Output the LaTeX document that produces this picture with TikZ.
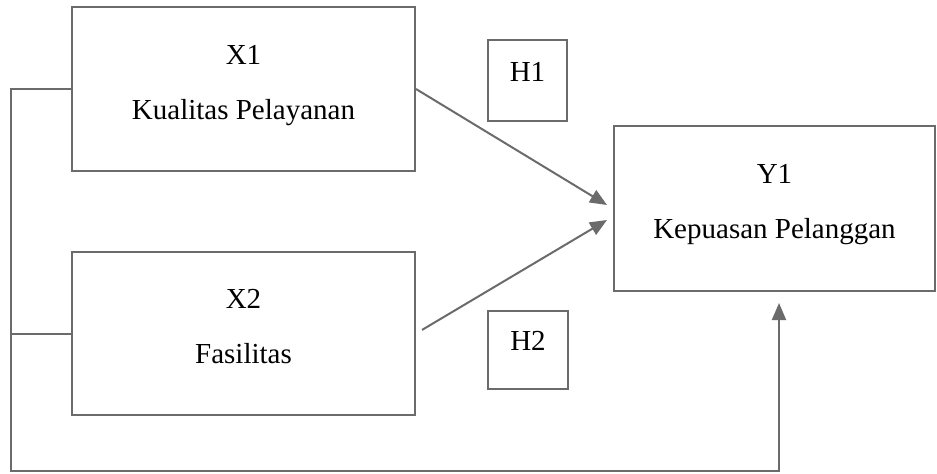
\documentclass[tikz,border=0pt]{standalone}
\usepackage{fontspec}
\setmainfont{Liberation Serif}
\usetikzlibrary{arrows.meta}

\definecolor{linegray}{HTML}{6B6B6B}
\tikzset{
  varbox/.style={draw=linegray,line width=1pt,align=center,inner sep=0pt,
    text depth=7pt,font=\fontsize{14.5}{27.5}\selectfont},
  hbox/.style={draw=linegray,line width=1pt,inner sep=0pt,
    font=\fontsize{14.5}{17}\selectfont},
  link/.style={draw=linegray,line width=1pt,-{Triangle[length=8.5pt,width=7pt]}}
}

\begin{document}
\begin{tikzpicture}[x=0.5pt,y=-0.5pt]
            \useasboundingbox (0,0) rectangle (937,473);
            % variables
            \node[varbox,minimum width=171.5pt,minimum height=82pt] (x1) at (243.5,89)
            {X1\\Kualitas Pelayanan};
            \node[varbox,minimum width=171.5pt,minimum height=81.5pt] (x2) at (243.5,333.5)
            {X2\\Fasilitas};
            \node[varbox,minimum width=160.5pt,minimum height=82.5pt] (y1) at (774.5,208.5)
            {Y1\\Kepuasan Pelanggan};
            % hypotheses
            \node[hbox,minimum width=39.5pt,minimum height=40.5pt] (h1) at (527.5,80.5) {};
            \node[hbox,minimum width=40pt,minimum height=39pt] (h2) at (528,349.5) {};
            \node[font=\fontsize{14.5}{17}\selectfont] (h1t) at (527.5,72) {H1};
            \node[font=\fontsize{14.5}{17}\selectfont] (h2t) at (528,341) {H2};
            % arrows into Y1
            \coordinate (t1) at (607,205);
            \coordinate (t2) at (607,220);
            \draw[link] (x1.east) -- (t1);
            \draw[link,shorten <=3.5pt] (x2.east) -- (t2);
            % simultaneous path
            \coordinate (lb) at (11,471);
            \coordinate (ya) at (779,303);
            \draw[link] (x1.west) -| (lb) -| (ya);
            \draw[draw=linegray,line width=1pt] (x2.west) -- (x2.west -| lb);
        \end{tikzpicture}
\end{document}
